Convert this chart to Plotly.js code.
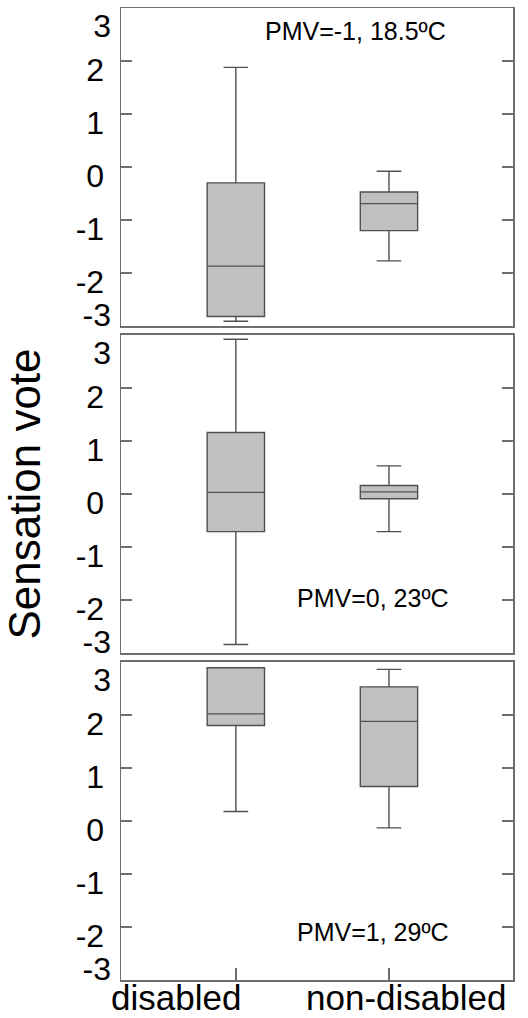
<!DOCTYPE html>
<html>
<head>
<meta charset="utf-8">
<script src="https://cdn.plot.ly/plotly-3.0.1.min.js"></script>
<style>html,body{margin:0;padding:0;background:#fff;}#chart{width:528px;height:1018px;}</style>
</head>
<body>
<div id="chart"></div>
<script>
// Categories and labels
const categories = ['disabled', 'non-disabled'];
const panelLabels = ['PMV=-1, 18.5ºC', 'PMV=0, 23ºC', 'PMV=1, 29ºC'];
const yTickVals = [-3, -2, -1, 0, 1, 2, 3];
const yTickText = ['-3', '-2', '-1', '0', '1', '2', '3'];
const yTitle = 'Sensation vote';

// Panel 1: PMV=-1, 18.5ºC
const coldLower  = [-2.91, -1.77];
const coldQ1     = [-2.82, -1.20];
const coldMedian = [-1.87, -0.69];
const coldQ3     = [-0.30, -0.47];
const coldUpper  = [ 1.88, -0.08];

// Panel 2: PMV=0, 23ºC
const neutralLower  = [-2.84, -0.71];
const neutralQ1     = [-0.71, -0.09];
const neutralMedian = [ 0.03,  0.04];
const neutralQ3     = [ 1.16,  0.16];
const neutralUpper  = [ 2.92,  0.53];

// Panel 3: PMV=1, 29ºC
const warmLower  = [0.18, -0.13];
const warmQ1     = [1.80,  0.65];
const warmMedian = [2.02,  1.88];
const warmQ3     = [2.89,  2.53];
const warmUpper  = [2.89,  2.86];

const panels = [
  {lo: coldLower, q1: coldQ1, med: coldMedian, q3: coldQ3, hi: coldUpper},
  {lo: neutralLower, q1: neutralQ1, med: neutralMedian, q3: neutralQ3, hi: neutralUpper},
  {lo: warmLower, q1: warmQ1, med: warmMedian, q3: warmQ3, hi: warmUpper}
];

const FONT = 'Liberation Sans, Arial, Helvetica, sans-serif';
const frameColor = '#6e6e6e';
const domains = [[0.6728, 1], [0.3364, 0.6636], [0, 0.3272]];
const labelY = [2.57, -1.96, -2.09];
const labelX = [0.597, 0.643, 0.643];
const tickFont = {size: 32, family: FONT, color: '#000'};

// label groups: which tick labels, and their vertical display offset (as in the reference)
const labelGroups = [
  {vals: [3], shift: 18},
  {vals: [-3], shift: -11}
];

const data = [];
const layout = {
  width: 528, height: 1018,
  margin: {l: 121, r: 15, t: 8, b: 38},
  paper_bgcolor: '#fff', plot_bgcolor: '#fff',
  showlegend: false,
  boxgap: 0.465,
  font: {family: FONT, color: '#000'},
  annotations: []
};

let ovIndex = 4;
panels.forEach((p, i) => {
  const n = i + 1;
  const xa = n === 1 ? 'x' : 'x' + n;
  const ya = n === 1 ? 'y' : 'y' + n;
  data.push({
    type: 'box', x: categories, xaxis: xa, yaxis: ya,
    q1: p.q1, median: p.med, q3: p.q3, lowerfence: p.lo, upperfence: p.hi,
    fillcolor: '#c0c0c0', line: {color: '#505050', width: 1.4},
    whiskerwidth: 0.43, boxpoints: false, hoverinfo: 'skip'
  });
  layout['xaxis' + (n === 1 ? '' : n)] = {
    type: 'category', categoryarray: categories, range: [-0.75, 1.81],
    anchor: ya, domain: [0, 1],
    showline: true, mirror: true, linecolor: frameColor, linewidth: 1.5,
    ticks: n === 3 ? 'inside' : '', ticklen: 12, tickcolor: frameColor, tickwidth: 1.5,
    showticklabels: false, showgrid: false, zeroline: false
  };
  const midVals = yTickVals.filter(v => v > -3 && v < 3);
  layout['yaxis' + (n === 1 ? '' : n)] = {
    range: [-3, 3], domain: domains[i], anchor: xa,
    tickmode: 'array', tickvals: yTickVals,
    ticktext: yTickVals.map(v => midVals.includes(v) ? yTickText[yTickVals.indexOf(v)] : ''),
    ticklabelshift: 9,
    showline: true, mirror: 'ticks', linecolor: frameColor, linewidth: 1.5,
    ticks: 'inside', ticklen: 11, tickcolor: frameColor, tickwidth: 1.5,
    tickfont: tickFont,
    ticklabelstandoff: 9,
    showgrid: false, zeroline: false,
    title: n === 2 ? {text: yTitle, font: {size: 44, family: FONT, color: '#000'}, standoff: 22} : {text: ''}
  };
  labelGroups.forEach(g => {
    const ov = ovIndex++;
    layout['yaxis' + ov] = {
      range: [-3, 3], overlaying: ya, anchor: xa, side: 'left',
      tickmode: 'array', tickvals: g.vals,
      ticktext: g.vals.map(v => yTickText[yTickVals.indexOf(v)]),
      ticklabelshift: g.shift,
      showline: false, ticks: '',
      tickfont: tickFont,
      ticklabelstandoff: 9,
      showgrid: false, zeroline: false
    };
    data.push({type: 'scatter', x: [], y: [], xaxis: xa, yaxis: 'y' + ov, hoverinfo: 'skip'});
  });
  layout.annotations.push({
    text: panelLabels[i], xref: 'paper', yref: ya, x: labelX[i], y: labelY[i],
    showarrow: false, xanchor: 'center', yanchor: 'middle',
    font: {size: 25, family: FONT, color: '#000'}
  });
});

// category labels under the bottom panel
const catX = [0.140, 0.727];
categories.forEach((c, j) => {
  layout.annotations.push({
    text: c, xref: 'paper', yref: 'paper', x: catX[j], y: 0,
    xanchor: 'center', yanchor: 'top', yshift: 4, showarrow: false,
    font: {size: 35, family: FONT, color: '#000'}
  });
});

Plotly.newPlot('chart', data, layout, {staticPlot: true, displayModeBar: false});
</script>
</body>
</html>
